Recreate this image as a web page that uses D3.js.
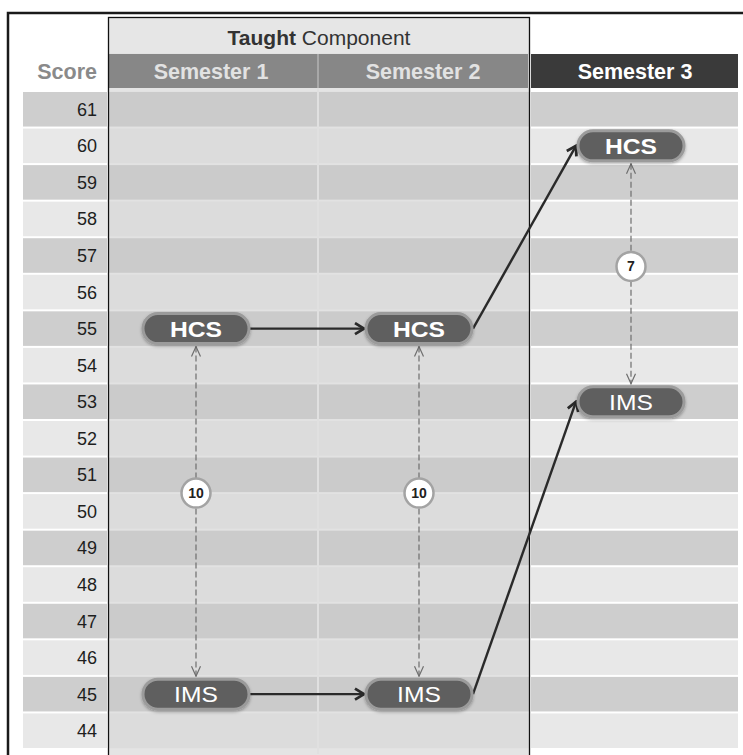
<!DOCTYPE html>
<html>
<head>
<meta charset="utf-8">
<script src="https://cdn.jsdelivr.net/npm/d3@7/dist/d3.min.js"></script>
<style>
  html, body { margin: 0; padding: 0; background: #fff; }
  svg { display: block; font-family: Arial, "Liberation Sans", sans-serif; }
</style>
</head>
<body>
<svg id="chart" width="743" height="755"></svg>
<script>
// Score rows, top to bottom
const scores = [61, 60, 59, 58, 57, 56, 55, 54, 53, 52, 51, 50, 49, 48, 47, 46, 45, 44];
const semesters = ["Semester 1", "Semester 2", "Semester 3"];
const taughtSemesters = ["Semester 1", "Semester 2"];
// Group scores per semester
const hcsScores = [55, 55, 60];
const imsScores = [45, 45, 53];
// Where the gap badge sits on each dashed connector (score units)
const badgeAt = [50.5, 50.5, 56.7];

const svg = d3.select("#chart");

const y = d3.scaleBand().domain(scores).range([91, 749]);
const yVal = v => y(61) + (61 - v) * y.step() + y.bandwidth() / 2;
const x = d3.scaleBand().domain(semesters).range([108, 738]);

// ---- row stripes ----
const odd = v => v % 2 !== 0;
// score label column
svg.append("g").selectAll("rect").data(scores).join("rect")
  .attr("x", 23).attr("y", d => y(d) + 1)
  .attr("width", 84).attr("height", y.bandwidth() - 2)
  .attr("fill", d => odd(d) ? "#cecece" : "#e8e8e8");
// taught area background
svg.append("rect").attr("x", 108).attr("y", 18).attr("width", 421).attr("height", 740).attr("fill", "#e2e2e2");
svg.append("g").selectAll("rect").data(scores).join("rect")
  .attr("x", 108).attr("y", d => y(d) + 1)
  .attr("width", 421).attr("height", y.bandwidth() - 2)
  .attr("fill", d => odd(d) ? "#cbcbcb" : "#dcdcdc");
svg.append("rect").attr("x", 108).attr("y", 88).attr("width", 421).attr("height", 3).attr("fill", "#e4e4e4");
svg.append("rect").attr("x", 108).attr("y", 749).attr("width", 421).attr("height", 10).attr("fill", "#e4e4e4");
// divider between semester 1 and 2
svg.append("rect").attr("x", x("Semester 2") - 1).attr("y", 54).attr("width", 2).attr("height", 700).attr("fill", "#e0e0e0");
// semester 3 column
svg.append("g").selectAll("rect").data(scores).join("rect")
  .attr("x", x("Semester 3") + 3).attr("y", d => y(d) + 1)
  .attr("width", x.bandwidth() - 3).attr("height", y.bandwidth() - 2)
  .attr("fill", d => odd(d) ? "#cecece" : "#e8e8e8");

// ---- headers ----
svg.append("rect").attr("x", 108).attr("y", 18).attr("width", 421).attr("height", 35).attr("fill", "#e6e6e6");
const tc = svg.append("text").attr("x", 319).attr("y", 45).attr("text-anchor", "middle")
  .attr("font-size", 21).attr("fill", "#333");
tc.append("tspan").attr("font-weight", "bold").text("Taught");
tc.append("tspan").text(" Component");

svg.append("g").selectAll("rect").data(taughtSemesters).join("rect")
  .attr("x", d => x(d)).attr("y", 54).attr("width", x.bandwidth()).attr("height", 34)
  .attr("fill", "#878787");
svg.append("rect").attr("x", x("Semester 2") - 1).attr("y", 54).attr("width", 2).attr("height", 34).attr("fill", "#a8a8a8");
svg.append("rect").attr("x", x("Semester 3") + 3).attr("y", 54).attr("width", x.bandwidth() - 3).attr("height", 34)
  .attr("fill", "#3a3a3a");
svg.append("g").selectAll("text").data(semesters).join("text")
  .attr("x", d => x(d) + x.bandwidth() / 2 - (d === "Semester 1" ? 2 : 0) + (d === "Semester 3" ? 2 : 0)).attr("y", 78.5)
  .attr("text-anchor", "middle").attr("font-size", 21.5).attr("font-weight", "bold")
  .attr("fill", d => d === "Semester 3" ? "#ffffff" : "#e2e2e2")
  .text(d => d);

svg.append("text").attr("x", 97).attr("y", 79).attr("text-anchor", "end")
  .attr("font-size", 21.5).attr("font-weight", "bold").attr("fill", "#8a8a8a").text("Score");

// score tick labels
svg.append("g").selectAll("text").data(scores).join("text")
  .attr("x", 97).attr("y", d => y(d) + y.bandwidth() / 2 + 6.5)
  .attr("text-anchor", "end").attr("font-size", 18).attr("fill", "#1e1e1e")
  .text(d => d);

// ---- frames ----
svg.append("rect").attr("x", 108.5).attr("y", 17.5).attr("width", 421).attr("height", 760)
  .attr("fill", "none").attr("stroke", "#111").attr("stroke-width", 1.3);
svg.append("rect").attr("x", 8).attr("y", 13).attr("width", 760).attr("height", 780)
  .attr("fill", "none").attr("stroke", "#1a1a1a").attr("stroke-width", 2.5);

// ---- markers ----
const defs = svg.append("defs");
defs.append("marker").attr("id", "solidHead").attr("viewBox", "0 0 14 14")
  .attr("refX", 12).attr("refY", 7).attr("markerWidth", 14).attr("markerHeight", 14)
  .attr("markerUnits", "userSpaceOnUse").attr("orient", "auto")
  .append("path").attr("d", "M3,1.5 L12,7 L3,12.5").attr("fill", "none")
  .attr("stroke", "#2a2a2a").attr("stroke-width", 2.8).attr("stroke-linejoin", "miter");
defs.append("marker").attr("id", "dashHead").attr("viewBox", "0 0 12 12")
  .attr("refX", 11).attr("refY", 6).attr("markerWidth", 12).attr("markerHeight", 12)
  .attr("markerUnits", "userSpaceOnUse").attr("orient", "auto-start-reverse")
  .append("path").attr("d", "M1,1.5 L11,6 L1,10.5").attr("fill", "none")
  .attr("stroke", "#6e6e6e").attr("stroke-width", 1.2);
const shadow = defs.append("filter").attr("id", "pillShadow").attr("x", "-20%").attr("y", "-40%")
  .attr("width", "140%").attr("height", "180%");
shadow.append("feDropShadow").attr("dx", 0).attr("dy", 1.5).attr("stdDeviation", 1.5)
  .attr("flood-color", "#000").attr("flood-opacity", 0.3);

// pill geometry
const pillOffset = { "Semester 1": 88, "Semester 2": 101, "Semester 3": 103 };
const pillW = 106, pillH = 30;
const px = (i) => x(semesters[i]) + pillOffset[semesters[i]];

// ---- gap connectors ----
const gapG = svg.append("g");
semesters.forEach((s, i) => {
  const cx = px(i);
  gapG.append("line").attr("x1", cx).attr("x2", cx)
    .attr("y1", yVal(hcsScores[i]) + pillH / 2 + 3).attr("y2", yVal(imsScores[i]) - pillH / 2 - 3)
    .attr("stroke", "#6e6e6e").attr("stroke-width", 1.2).attr("stroke-dasharray", "6,3")
    .attr("marker-start", "url(#dashHead)").attr("marker-end", "url(#dashHead)");
});

// ---- trajectory arrows ----
const arrowG = svg.append("g");
[hcsScores, imsScores].forEach(series => {
  for (let i = 0; i < series.length - 1; i++) {
    arrowG.append("line")
      .attr("x1", px(i) + pillW / 2 + 1).attr("y1", yVal(series[i]))
      .attr("x2", px(i + 1) - pillW / 2 - 2).attr("y2", yVal(series[i + 1]))
      .attr("stroke", "#2a2a2a").attr("stroke-width", 2.4)
      .attr("marker-end", "url(#solidHead)");
  }
});

// ---- pills ----
const pills = [];
semesters.forEach((s, i) => {
  pills.push({ label: "HCS", i, v: hcsScores[i] });
  pills.push({ label: "IMS", i, v: imsScores[i] });
});
const pg = svg.append("g").selectAll("g").data(pills).join("g")
  .attr("transform", d => `translate(${px(d.i)},${yVal(d.v)})`);
pg.append("rect").attr("x", -pillW / 2).attr("y", -pillH / 2)
  .attr("width", pillW).attr("height", pillH).attr("rx", pillH / 2)
  .attr("fill", "#5e5e5e").attr("stroke", "#9b9b9b").attr("stroke-width", 3)
  .attr("filter", "url(#pillShadow)");
pg.append("text").attr("text-anchor", "middle").attr("y", 8)
  .attr("transform", "scale(1.12,1)")
  .attr("font-size", 22).attr("font-weight", d => d.label === "HCS" ? "bold" : "normal")
  .attr("fill", "#fff").text(d => d.label);

// ---- gap badges ----
const bg = svg.append("g").selectAll("g").data(semesters).join("g")
  .attr("transform", (s, i) => `translate(${px(i)},${yVal(badgeAt[i])})`);
bg.append("circle").attr("r", 14.5).attr("fill", "#fff").attr("stroke", "#a3a3a3").attr("stroke-width", 2.5);
bg.append("text").attr("text-anchor", "middle").attr("y", 5)
  .attr("font-size", 14).attr("font-weight", "bold").attr("fill", "#222")
  .text((s, i) => hcsScores[i] - imsScores[i]);
</script>
</body>
</html>
